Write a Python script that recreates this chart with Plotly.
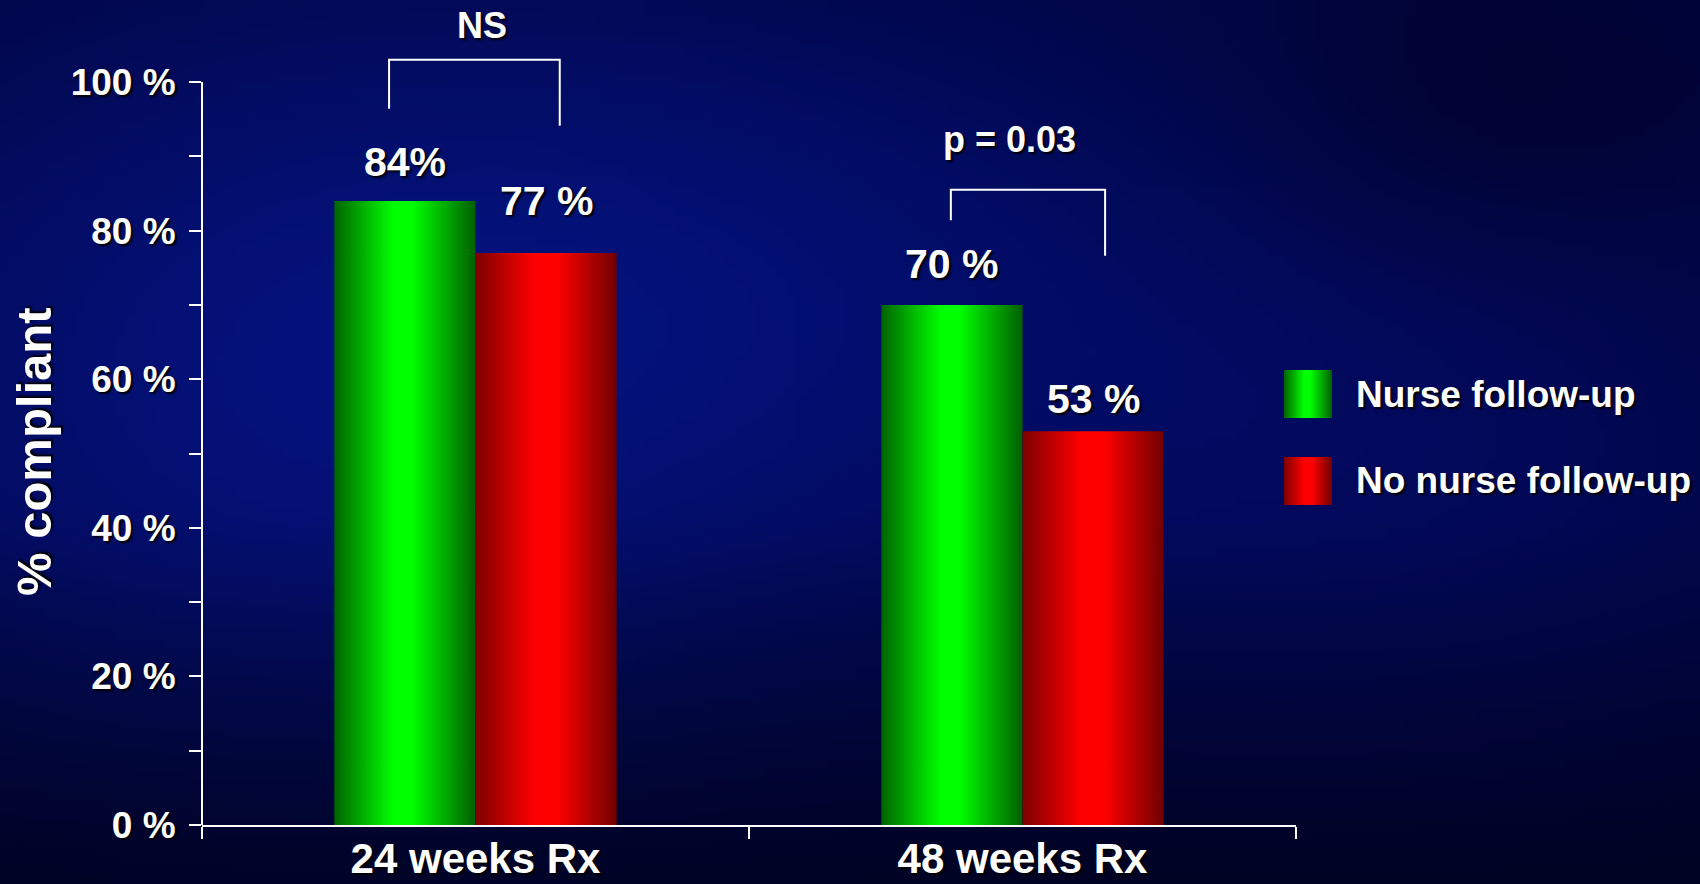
import base64
import struct
import zlib

import numpy as np
import plotly.graph_objects as go

# ---- data -------------------------------------------------------------
categories = ["24 weeks Rx", "48 weeks Rx"]
series_names = ["Nurse follow-up", "No nurse follow-up"]
nurse_followup = [84, 70]
no_nurse_followup = [77, 53]
label_space = [["", " "], [" ", " "]]          # "84%" vs "77 %" spacing per label
y_tick_values = [0, 20, 40, 60, 80, 100]
y_tick_labels = ["0 %", "20 %", "40 %", "60 %", "80 %", "100 %"]
y_minor_values = [10, 30, 50, 70, 90]
comparisons = ["NS", "p = 0.03"]

# ---- style ------------------------------------------------------------
W, H = 1700, 884
FONT = "Liberation Sans, Arial, Helvetica, sans-serif"
SHADOW = "2px 2px 2px rgba(0,0,0,0.95)"
WHITE = "#ffffff"
BAR_W = 0.258                       # width of one bar in category units
X_DOMAIN = [202 / W, 1296 / W]
Y0_PX = 825                         # pixel row of 0 %
PX_PER_PCT = 7.43
Y_RANGE_TOP = Y0_PX / PX_PER_PCT    # plot area extends to the top edge

GREEN_SCALE = [[0.0, "rgb(0,100,0)"], [0.42, "rgb(0,255,0)"],
               [0.55, "rgb(0,255,0)"], [1.0, "rgb(0,95,0)"]]
RED_SCALE = [[0.0, "rgb(125,0,0)"], [0.42, "rgb(255,0,0)"],
             [0.58, "rgb(255,0,0)"], [1.0, "rgb(112,0,0)"]]
series_scales = [GREEN_SCALE, RED_SCALE]
label_lift = [[39, 41], [52, 32]]   # px above each bar top


def font(size):
    return dict(family=FONT, size=size, color=WHITE, weight="bold", shadow=SHADOW)


# ---- background: dark navy with a soft blue glow ----------------------
def background_uri():
    gw, gh = 170, 88
    xs = (np.arange(gw) + 0.5) * W / gw
    ys = (np.arange(gh) + 0.5) * H / gh
    X, Y = np.meshgrid(xs, ys)

    def blob(cx, cy, sx, sy):
        return np.exp(-(((X - cx) / sx) ** 2 + ((Y - cy) / sy) ** 2) / 2)

    r = np.full_like(X, 0.5)
    g = np.full_like(X, 4.0)
    b = np.full_like(X, 58.0)
    glow = blob(330, 380, 420, 290)
    r += 4 * glow; g += 13 * glow; b += 62 * glow
    side = blob(1380, 420, 320, 260)
    r += 2 * side; g += 5 * side; b += 32 * side
    mid = blob(800, 250, 300, 200)
    g += 4 * mid; b += 20 * mid
    dark = blob(1480, 120, 180, 120)
    b -= 22 * dark; g -= 3 * dark
    fade = 1 - 0.45 * np.clip((Y - 520) / 364, 0, 1)
    rgb = np.stack([r * fade, g * fade, b * fade], axis=-1)
    arr = np.clip(rgb, 0, 255).astype(np.uint8)

    raw = b"".join(b"\x00" + arr[i].tobytes() for i in range(gh))

    def chunk(tag, data):
        c = struct.pack(">I", len(data)) + tag + data
        return c + struct.pack(">I", zlib.crc32(tag + data) & 0xFFFFFFFF)

    png = (b"\x89PNG\r\n\x1a\n"
           + chunk(b"IHDR", struct.pack(">IIBBBBB", gw, gh, 8, 2, 0, 0, 0))
           + chunk(b"IDAT", zlib.compress(raw, 9))
           + chunk(b"IEND", b""))
    return "data:image/png;base64," + base64.b64encode(png).decode()


fig = go.Figure()

# ---- bars: filled rectangles with a horizontal shading ----------------
series_values = [nurse_followup, no_nurse_followup]
for s, (name, values) in enumerate(zip(series_names, series_values)):
    for i, v in enumerate(values):
        left = i - BAR_W if s == 0 else i
        right = left + BAR_W
        fig.add_trace(go.Scatter(
            x=[left, left, right, right, left],
            y=[0, v, v, 0, 0],
            mode="lines", line=dict(width=0),
            fill="toself",
            fillgradient=dict(type="horizontal", colorscale=series_scales[s]),
            name=name, showlegend=False,
            hovertemplate=f"{categories[i]}<br>{name}: {v}%<extra></extra>",
            xaxis="x", yaxis="y",
        ))
        fig.add_annotation(
            x=left + BAR_W / 2, y=v, xref="x", yref="y",
            text=f"{v}{label_space[s][i]}%", showarrow=False,
            yanchor="middle", yshift=label_lift[s][i], font=font(41),
        )

# ---- legend swatches (pixel-space overlay axes) -----------------------
swatch_left, swatch_size = 1284, 48
swatch_tops = [370, 457]
for s, name in enumerate(series_names):
    t = swatch_tops[s]
    fig.add_trace(go.Scatter(
        x=[swatch_left, swatch_left, swatch_left + swatch_size,
           swatch_left + swatch_size, swatch_left],
        y=[t, t + swatch_size, t + swatch_size, t, t],
        mode="lines", line=dict(width=0), fill="toself",
        fillgradient=dict(type="horizontal", colorscale=series_scales[s]),
        showlegend=False, hoverinfo="skip", xaxis="x2", yaxis="y2",
    ))
    fig.add_annotation(
        x=1354 / W, y=1 - (t + swatch_size / 2) / H, xref="paper", yref="paper",
        text=name, showarrow=False, xanchor="left", yanchor="middle",
        font=font(37),
    )

# ---- significance brackets --------------------------------------------
bracket_specs = [
    # (category, left dx, right dx, top y, left foot y, right foot y, label y, label dx)
    (0, -0.158, 0.154, 103.0, 96.4, 94.1, 107.6, 0.012),
    (1, -0.131, 0.151, 85.5, 81.4, 76.6, 92.3, -0.023),
]
for (c, dl, dr, top, fl, fr, ly, ldx), text in zip(bracket_specs, comparisons):
    fig.add_shape(
        type="path", xref="x", yref="y",
        path=f"M {c + dl},{fl} L {c + dl},{top} L {c + dr},{top} L {c + dr},{fr}",
        line=dict(color=WHITE, width=2),
    )
    fig.add_annotation(
        x=c + ldx, y=ly, xref="x", yref="y", text=text, showarrow=False,
        yanchor="middle", font=font(36),
    )

# vertical axis line from 0 % to 100 %
fig.add_shape(type="line", xref="x domain", yref="y", x0=0, x1=0,
              y0=y_tick_values[0], y1=y_tick_values[-1],
              line=dict(color=WHITE, width=2))

# y-axis title
fig.add_annotation(
    x=34 / W, y=1 - 452 / H, xref="paper", yref="paper", text="% compliant",
    textangle=-90, showarrow=False, xanchor="center", yanchor="middle",
    font=font(49),
)

fig.update_layout(
    width=W, height=H,
    margin=dict(l=0, r=0, t=0, b=0),
    paper_bgcolor="#00053c",
    plot_bgcolor="rgba(0,0,0,0)",
    showlegend=False,
    images=[dict(source=background_uri(), xref="paper", yref="paper",
                 x=0, y=1, sizex=1, sizey=1, sizing="stretch",
                 xanchor="left", yanchor="top", layer="below")],
    xaxis=dict(
        domain=X_DOMAIN, range=[-0.5, len(categories) - 0.5],
        tickvals=list(range(len(categories))), ticktext=categories,
        ticks="", showgrid=False, zeroline=False, automargin=False,
        showline=True, linecolor=WHITE, linewidth=2,
        tickfont=font(42), ticklabelstandoff=-4,
        minor=dict(tickvals=[i - 0.5 for i in range(len(categories) + 1)],
                   ticks="outside", ticklen=12, tickwidth=2, tickcolor=WHITE,
                   showgrid=False),
        fixedrange=True,
    ),
    yaxis=dict(
        domain=[1 - Y0_PX / H, 1], range=[0, Y_RANGE_TOP],
        tickvals=y_tick_values, ticktext=y_tick_labels,
        ticks="outside", ticklen=12, tickwidth=2, tickcolor=WHITE,
        showline=False, showgrid=False, zeroline=False, automargin=False,
        tickfont=font(37), ticklabelstandoff=6,
        minor=dict(tickvals=y_minor_values, ticks="outside", ticklen=12,
                   tickwidth=2, tickcolor=WHITE, showgrid=False),
        fixedrange=True,
    ),
    xaxis2=dict(domain=[0, 1], range=[0, W], visible=False, fixedrange=True),
    yaxis2=dict(domain=[0, 1], range=[H, 0], visible=False, fixedrange=True,
                anchor="x2"),
)

fig.write_html("out.html")
